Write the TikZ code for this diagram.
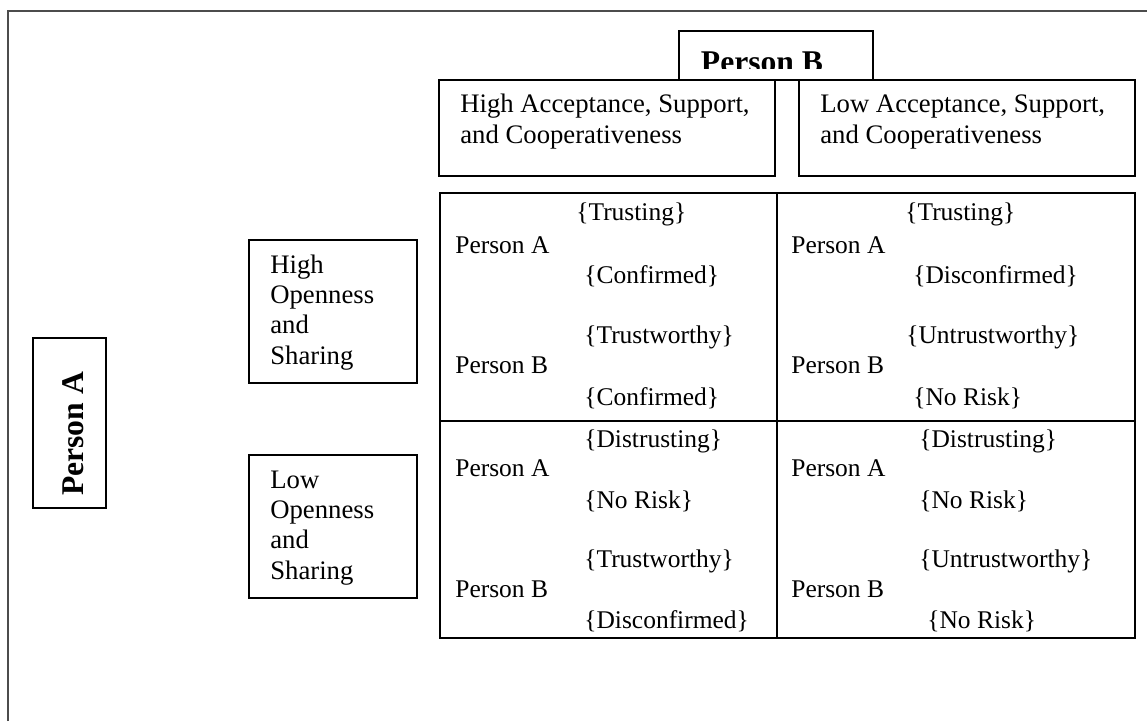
\documentclass[tikz,border=0pt]{standalone}
\usepackage{fontspec}
\setmainfont{Liberation Serif}
\usetikzlibrary{positioning}

\tikzset{
	box/.style={draw, line width=1.1pt, inner sep=0pt, anchor=north west},
	cell/.style={draw, line width=0.9pt, inner sep=0pt, anchor=north west},
	boxtext/.style={anchor=base west, inner sep=0pt, align=left, font=\fontsize{15.2}{17.2}\selectfont},
	celltext/.style={anchor=base west, inner sep=0pt, font=\fontsize{14.5}{17}\selectfont},
	head/.style={anchor=base, inner sep=0pt, font=\fontsize{18}{20}\selectfont\bfseries}
}

\begin{document}
\begin{tikzpicture}[x=0.02cm, y=-0.02cm]
	\useasboundingbox (0,0) rectangle (1147,721);
	\draw[line width=1.1pt, black!70] (8,721) -- (8,11) -- (1147,11);

	% Person B, columns
	\node[box, minimum width=3.88cm, minimum height=0.98cm] (pbbox) at (678,30) {};
	\begin{scope}
		\clip (678,30) rectangle (872,68);
		\node[head] (pbhead) at (762,72) {Person B};
	\end{scope}
	\node[box, fill=white, minimum width=6.72cm, minimum height=1.92cm] (highacc) at (438,79) {};
	\node[box, fill=white, minimum width=6.72cm, minimum height=1.92cm] (lowacc) at (798,79) {};
	\node[boxtext] (highacctext) at (460,143) {High Acceptance, Support,\\and Cooperativeness};
	\node[boxtext] (lowacctext) at (820,143) {Low Acceptance, Support,\\and Cooperativeness};

	% Person A, rows
	\node[box, minimum width=1.46cm, minimum height=3.4cm] (pabox) at (32,337) {};
	\node[head, rotate=90] (pahead) at (83,434) {Person A};
	\node[box, minimum width=3.36cm, minimum height=2.86cm] (highopen) at (248,239) {};
	\node[box, minimum width=3.36cm, minimum height=2.86cm] (lowopen) at (248,454) {};
	\node[boxtext] (highopentext) at (270,364) {High\\Openness\\and\\Sharing};
	\node[boxtext] (lowopentext) at (270,579) {Low\\Openness\\and\\Sharing};

	% the four cells
	\node[cell, minimum width=6.74cm, minimum height=4.56cm] (hh) at (439,192) {};
	\node[cell, minimum width=7.16cm, minimum height=4.56cm] (hl) at (776,192) {};
	\node[cell, minimum width=6.74cm, minimum height=4.34cm] (lh) at (439,420) {};
	\node[cell, minimum width=7.16cm, minimum height=4.34cm] (ll) at (776,420) {};

	\node[celltext] (hhtrust) at (576,220) {\{Trusting\}};
	\node[celltext] (hha) at (455,253) {Person A};
	\node[celltext] (hhconfa) at (584,283) {\{Confirmed\}};
	\node[celltext] (hhworthy) at (584,343) {\{Trustworthy\}};
	\node[celltext] (hhb) at (455,373) {Person B};
	\node[celltext] (hhconfb) at (584,405) {\{Confirmed\}};

	\node[celltext] (hltrust) at (905,220) {\{Trusting\}};
	\node[celltext] (hla) at (791,253) {Person A};
	\node[celltext] (hldisconf) at (913,283) {\{Disconfirmed\}};
	\node[celltext] (hlworthy) at (906,343) {\{Untrustworthy\}};
	\node[celltext] (hlb) at (791,373) {Person B};
	\node[celltext] (hlrisk) at (913,405) {\{No Risk\}};

	\node[celltext] (lhtrust) at (584,447) {\{Distrusting\}};
	\node[celltext] (lha) at (455,476) {Person A};
	\node[celltext] (lhrisk) at (584,508) {\{No Risk\}};
	\node[celltext] (lhworthy) at (584,567) {\{Trustworthy\}};
	\node[celltext] (lhb) at (455,597) {Person B};
	\node[celltext] (lhdisconf) at (584,628) {\{Disconfirmed\}};

	\node[celltext] (lltrust) at (919,447) {\{Distrusting\}};
	\node[celltext] (lla) at (791,476) {Person A};
	\node[celltext] (llriska) at (919,508) {\{No Risk\}};
	\node[celltext] (llworthy) at (919,567) {\{Untrustworthy\}};
	\node[celltext] (llb) at (791,597) {Person B};
	\node[celltext] (llriskb) at (927,628) {\{No Risk\}};
\end{tikzpicture}
\end{document}
